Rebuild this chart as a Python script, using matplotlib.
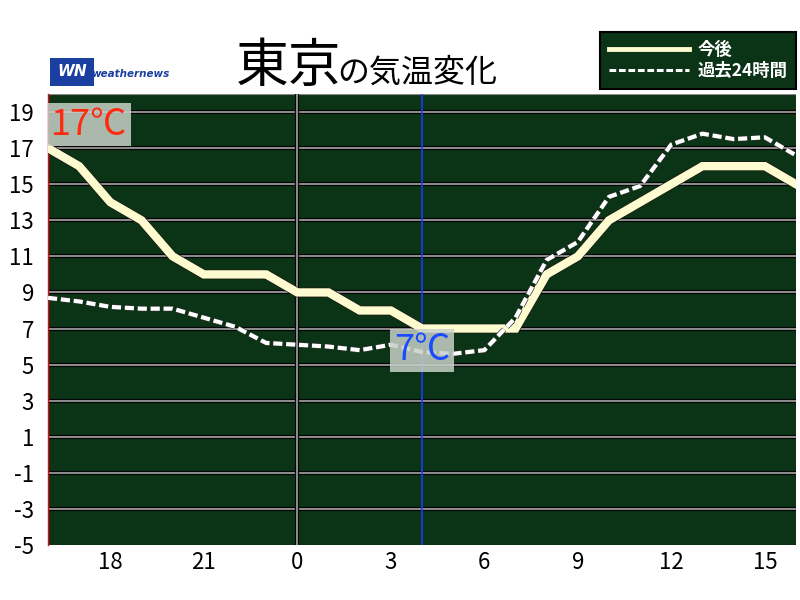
import matplotlib
matplotlib.use('Agg')
import matplotlib.pyplot as plt
import matplotlib.patheffects as pe
import numpy as np

plt.rcParams['font.family'] = ['Noto Sans CJK JP', 'DejaVu Sans']

# 時刻(16時から翌16時まで1時間ごと)
hours = [16, 17, 18, 19, 20, 21, 22, 23, 0, 1, 2, 3, 4,
         5, 6, 7, 8, 9, 10, 11, 12, 13, 14, 15, 16]
# 今後の予想気温
temp_future = [17, 16, 14, 13, 11, 10, 10, 10, 9, 9, 8, 8, 7,
               7, 7, 7, 10, 11, 13, 14, 15, 16, 16, 16, 15]
# 過去24時間の気温
temp_past = [8.7, 8.5, 8.2, 8.1, 8.1, 7.6, 7.1, 6.2, 6.1, 6.0, 5.8, 6.1, 5.7,
             5.6, 5.8, 7.6, 10.8, 11.8, 14.3, 14.9, 17.2, 17.8, 17.5, 17.6, 16.6]
tick_hours = [18, 21, 0, 3, 6, 9, 12, 15]
y_ticks = [19, 17, 15, 13, 11, 9, 7, 5, 3, 1, -1, -3, -5]
now_hour = 4

bg = '#0b3316'
cream = '#fdfbcf'

x = np.arange(len(hours))

fig = plt.figure(figsize=(8, 6), dpi=100)
ax = fig.add_axes([48 / 800, 1 - 545 / 600, 748 / 800, 451 / 600])
ax.set_facecolor(bg)
ax.set_xlim(0, len(hours) - 1)
ax.set_ylim(-5, 20)

# 横線(グレー、黒い縁取り)
for v in y_ticks[:-1]:
    ax.axhline(v, color='#8a8a8a', lw=1.5, zorder=1,
               path_effects=[pe.Stroke(linewidth=3, foreground='black'), pe.Normal()])
ax.axhline(20, color='#8a8a8a', lw=1.5, zorder=1)

# 0時の縦線と現在時刻の線
ax.axvline(hours.index(0), color='#8a8a8a', lw=1.5, zorder=1,
           path_effects=[pe.Stroke(linewidth=3, foreground='black'), pe.Normal()])
now_idx = hours.index(now_hour)
ax.axvline(now_idx, color='#1a3cff', lw=1.2, zorder=1)

l1, = ax.plot(x, temp_future, color=cream, lw=6, zorder=3, label='今後',
              solid_joinstyle='miter',
              path_effects=[pe.Stroke(linewidth=7, foreground='#1a1a10'), pe.Normal()])
l2, = ax.plot(x, temp_past, color='white', lw=3, zorder=4, label='過去24時間',
              dashes=(2.2, 0.9),
              path_effects=[pe.Stroke(linewidth=4, foreground='#303030'), pe.Normal()])

# ラベル
box = dict(boxstyle='square,pad=0.1', facecolor='#c8d0c8', edgecolor='none', alpha=0.85)
ax.text(0.1, 18.3, f'{temp_future[0]}℃', color='#ff2a10', fontsize=26,
        ha='left', va='center', bbox=box, zorder=5)
ax.text(now_idx, 5.8, f'{temp_future[now_idx]}℃', color='#1a4cff', fontsize=26,
        ha='center', va='center', bbox=box, zorder=5)

ax.set_yticks(y_ticks)
ax.set_yticklabels([str(v) for v in y_ticks], fontsize=16)
ax.set_xticks([hours.index(h) for h in tick_hours])
ax.set_xticklabels([str(h) for h in tick_hours], fontsize=16)
ax.tick_params(length=0, pad=4)
ax.tick_params(axis='y', pad=10)
for s in ['top', 'right', 'bottom']:
    ax.spines[s].set_visible(False)
ax.spines['left'].set_color('#d01010')
ax.spines['left'].set_linewidth(1)

# タイトル
fig.text(236 / 800, 1 - 82 / 600, '東京', fontsize=38, ha='left', va='baseline')
fig.text(337 / 800, 1 - 82 / 600, 'の気温変化', fontsize=23, ha='left', va='baseline')

# ロゴ
fig.text(57 / 800, 1 - 72 / 600, 'WN', fontsize=11, fontweight='bold', style='italic',
         color='white', ha='left', va='center', family='DejaVu Sans',
         bbox=dict(boxstyle='square,pad=0.45', facecolor='#1a3fa0', edgecolor='none'))
fig.text(91 / 800, 1 - 74 / 600, 'weathernews', fontsize=7.5, fontweight='bold',
         style='italic', color='#1a3fa0', ha='left', va='center', family='DejaVu Sans')

# 凡例
leg = fig.legend(handles=[l1, l2], loc='upper right',
                 bbox_to_anchor=(796 / 800, 1 - 32 / 600), borderaxespad=0,
                 fontsize=12.5, handlelength=4.6, handletextpad=0.5,
                 labelspacing=0.2, borderpad=0.5, fancybox=False,
                 facecolor=bg, edgecolor='black', framealpha=1)
leg.get_frame().set_linewidth(1.5)
handles = leg.legend_handles
handles[0].set_linewidth(3.5)
handles[0].set_path_effects([])
handles[1].set_linewidth(2.2)
handles[1].set_path_effects([])
for t in leg.get_texts():
    t.set_color('white')
    t.set_fontweight('bold')

plt.savefig('out.png', dpi=100)
